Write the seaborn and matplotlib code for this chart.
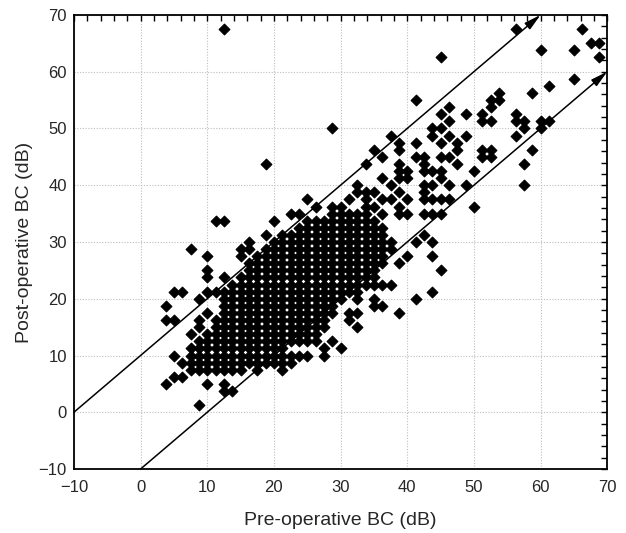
import numpy as np
import pandas as pd
import matplotlib
matplotlib.use("Agg")
import matplotlib.pyplot as plt
import seaborn as sns
from matplotlib.ticker import MultipleLocator

# ---- data (dB); values are on a 1.25 dB grid ----
# dense core: each row is filled from x_from to x_to at the 1.25 dB resolution
core_y      = [7.5, 8.75, 10, 11.25, 12.5, 13.75, 15, 16.25, 17.5, 18.75, 20, 21.25,
               22.5, 23.75, 25, 26.25, 27.5, 28.75, 30, 31.25, 32.5, 33.75]
core_x_from = [7.5, 7.5, 7.5, 7.5, 8.75, 10, 11.25, 11.25, 12.5, 12.5, 12.5, 12.5,
               13.75, 15, 16.25, 16.25, 17.5, 18.75, 20, 21.25, 23.75, 25]
core_x_to   = [15, 22.5, 25, 21.25, 23.75, 26.25, 27.5, 27.5, 28.75, 28.75, 30, 32.5,
               37.5, 35, 35, 36.25, 36.25, 37.5, 37.5, 36.25, 36.25, 35]

lower_left_pts = [(3.75, 5), (5, 6.25), (6.25, 6.25), (8.75, 1.25), (10, 5), (12.5, 5),
                  (12.5, 3.75), (13.75, 3.75), (5, 10), (6.25, 8.75), (3.75, 18.75),
                  (3.75, 16.25), (5, 16.25), (5, 21.25), (6.25, 21.25), (7.5, 13.75),
                  (8.75, 15), (8.75, 16.25), (10, 17.5), (8.75, 20), (7.5, 28.75),
                  (10, 27.5), (10, 25), (10, 23.75), (12.5, 23.75), (10, 21.25),
                  (11.25, 21.25), (17.5, 7.5), (21.25, 7.5), (15, 28.75), (16.25, 28.75),
                  (16.25, 30), (15, 27.5), (18.75, 31.25), (11.25, 33.75), (12.5, 33.75),
                  (20, 33.75), (22.5, 35), (23.75, 35), (25, 37.5), (26.25, 36.25),
                  (28.75, 36.25), (30, 36.25), (18.75, 43.75), (12.5, 67.5), (28.75, 50)]

lower_right_pts = [(27.5, 10), (27.5, 11.25), (30, 11.25), (25, 12.5), (26.25, 12.5),
                   (28.75, 12.5), (32.5, 15), (31.25, 16.25), (31.25, 17.5), (32.5, 17.5),
                   (38.75, 17.5), (35, 18.75), (36.25, 18.75), (32.5, 20), (35, 20),
                   (41.25, 20), (43.75, 21.25), (45, 25), (38.75, 26.25), (40, 27.5),
                   (43.75, 27.5), (41.25, 30), (43.75, 30), (42.5, 31.25)]

upper_y = [35, 36.25, 37.5, 38.75, 40, 41.25, 42.5, 43.75, 45, 46.25, 47.5, 48.75,
           50, 51.25, 52.5, 53.75, 55, 56.25, 57.5, 58.75, 62.5, 63.75, 65, 67.5]
upper_x = [[28.75, 30, 31.25, 32.5, 33.75, 36.25, 38.75, 40, 42.5, 43.75, 45],
           [33.75, 35, 38.75, 50],
           [31.25, 33.75, 36.25, 37.5, 40, 42.5, 43.75, 45, 46.25],
           [32.5, 33.75, 35, 38.75, 42.5],
           [32.5, 37.5, 42.5, 43.75, 46.25, 48.75, 57.5],
           [36.25, 38.75, 40, 45],
           [38.75, 40, 42.5, 43.75, 45, 50],
           [33.75, 38.75, 42.5, 47.5, 57.5],
           [36.25, 41.25, 42.5, 45, 46.25, 51.25, 52.5],
           [35, 38.75, 47.5, 51.25, 52.5, 58.75],
           [38.75, 41.25, 45, 47.5],
           [37.5, 43.75, 46.25, 48.75, 56.25],
           [43.75, 45, 57.5, 60],
           [46.25, 51.25, 52.5, 56.25, 57.5, 60, 61.25],
           [45, 48.75, 51.25, 56.25],
           [46.25, 52.5],
           [41.25, 52.5, 53.75],
           [53.75, 58.75],
           [61.25],
           [65],
           [45, 68.75],
           [60, 65],
           [67.5, 68.75],
           [56.25, 66.25]]

# reference lines (+10 dB / -10 dB)
line_offsets = [10, -10]

# ---- build the table ----
xs, ys = [], []
for y, a, b in zip(core_y, core_x_from, core_x_to):
    n = int(round((b - a) / 1.25)) + 1
    for i in range(n):
        xs.append(a + 1.25 * i)
        ys.append(y)
for x, y in lower_left_pts + lower_right_pts:
    xs.append(x); ys.append(y)
for y, row in zip(upper_y, upper_x):
    for x in row:
        xs.append(x); ys.append(y)
df = pd.DataFrame({"pre": xs, "post": ys})

# ---- plot ----
sns.set_style("white")
plt.rcParams["font.family"] = ["Liberation Sans", "DejaVu Sans"]

fig = plt.figure(figsize=(6.26, 5.33), dpi=100)
ax = fig.add_axes([0.118, 0.12, 0.852, 0.852])

sns.scatterplot(data=df, x="pre", y="post", marker="D", s=30, color="black",
                edgecolor="black", linewidth=0.8, ax=ax, zorder=3)

for off in line_offsets:
    if off > 0:
        start, end = (-10, -10 + off), (70 - off, 70)
    else:
        start, end = (-10 - off, -10), (70, 70 + off)
    ax.annotate("", xy=end, xytext=start,
                arrowprops=dict(arrowstyle="-|>,head_length=1.0,head_width=0.25",
                                color="black", lw=1.1, shrinkA=0, shrinkB=0),
                annotation_clip=False, zorder=4)

ax.set_xlim(-10, 70)
ax.set_ylim(-10, 70)
ax.xaxis.set_major_locator(MultipleLocator(10))
ax.yaxis.set_major_locator(MultipleLocator(10))
ax.xaxis.set_minor_locator(MultipleLocator(2))
ax.yaxis.set_minor_locator(MultipleLocator(2))
ax.grid(True, which="major", linestyle=(0, (1, 1.5)), color="#bdbdbd", linewidth=0.8)
ax.tick_params(which="both", direction="in", top=True, right=True, length=4,
               width=1, color="black", labelsize=12)
ax.tick_params(axis="x", pad=8)
ax.tick_params(axis="y", pad=5)
for sp in ax.spines.values():
    sp.set_visible(True)
    sp.set_color("black")
    sp.set_linewidth(1.3)

ax.set_xlabel("Pre-operative BC (dB)", fontsize=14, labelpad=12)
ax.set_ylabel("Post-operative BC (dB)", fontsize=14, labelpad=4)

fig.savefig("out.png", dpi=100)
